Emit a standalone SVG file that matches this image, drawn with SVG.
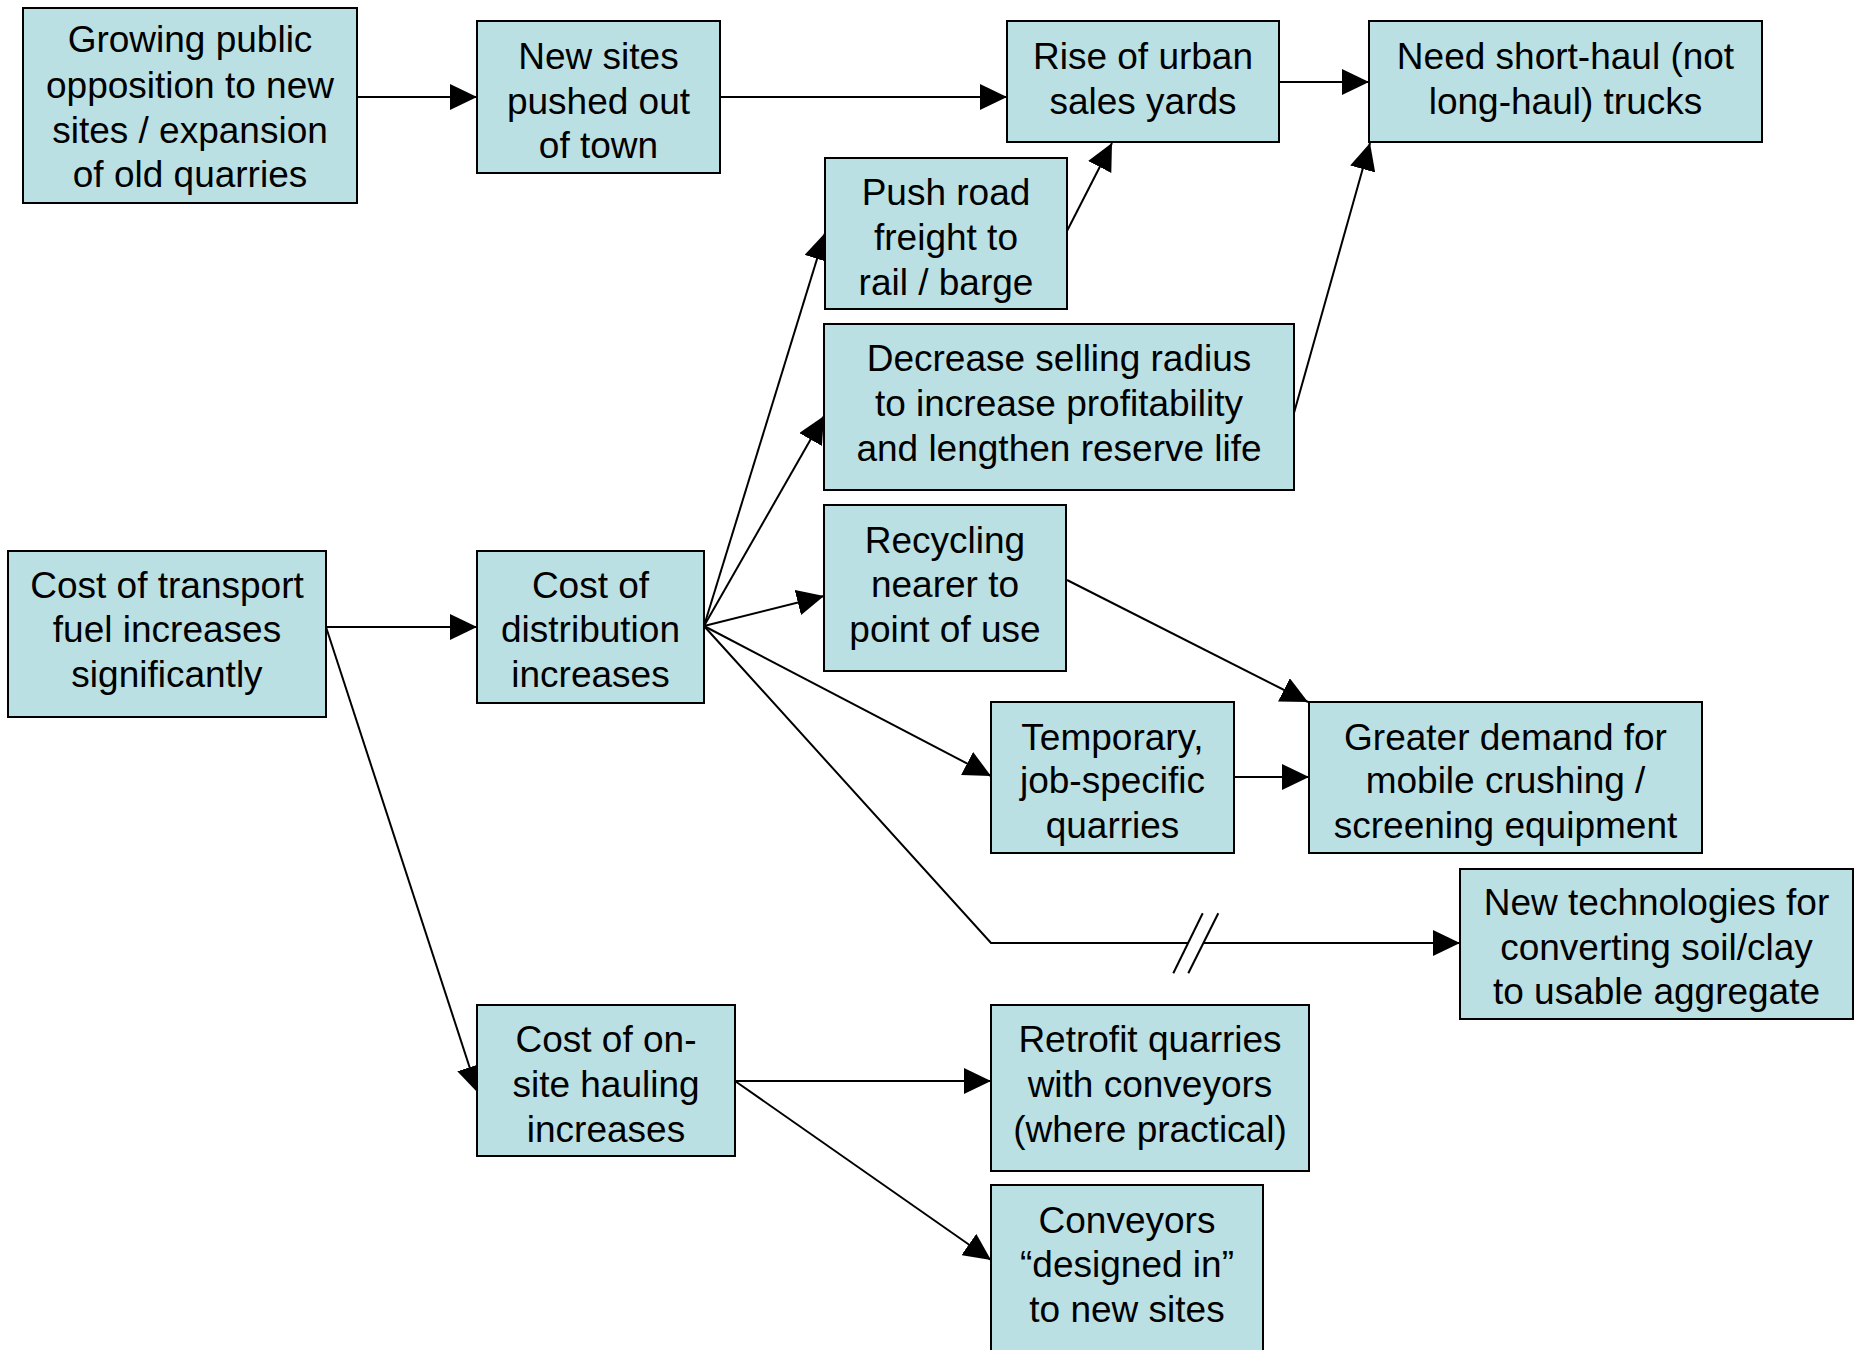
<svg xmlns="http://www.w3.org/2000/svg" width="1857" height="1350" viewBox="0 0 1857 1350">
  <style>
    .box rect { fill: #BBE0E3; stroke: #000; stroke-width: 2; }
    .box text { font-family: "Liberation Sans", Arial, sans-serif; font-size: 37px; fill: #000; text-anchor: middle; }
    .edge { fill: none; stroke: #000; stroke-width: 2; }
    .arrow { marker-end: url(#head); }
  </style>
  <defs>
    <marker id="head" markerUnits="userSpaceOnUse" markerWidth="28" markerHeight="26" refX="27" refY="13" orient="auto">
      <path d="M0,0 L27,13 L0,26 Z" fill="#000"/>
    </marker>
  </defs>
  <rect width="1857" height="1350" fill="#fff"/>

  <!-- connectors -->
  <g id="connectors">
    <line class="edge arrow" x1="357" y1="97" x2="477" y2="97"/>
    <line class="edge arrow" x1="720" y1="97" x2="1007" y2="97"/>
    <line class="edge arrow" x1="1279" y1="82" x2="1369" y2="82"/>
    <line class="edge arrow" x1="1067" y1="231" x2="1112" y2="143"/>
    <line class="edge arrow" x1="1294" y1="413" x2="1370" y2="143"/>
    <line class="edge arrow" x1="326" y1="627" x2="477" y2="627"/>
    <line class="edge arrow" x1="326" y1="627" x2="478" y2="1093"/>
    <line class="edge arrow" x1="704" y1="626" x2="825" y2="233"/>
    <line class="edge arrow" x1="704" y1="626" x2="824" y2="416"/>
    <line class="edge arrow" x1="704" y1="626" x2="824" y2="596"/>
    <line class="edge arrow" x1="704" y1="626" x2="991" y2="776"/>
    <polyline class="edge arrow" points="704,626 991,943 1460,943"/>
    <!-- break symbol on the long connector -->
    <polygon points="1202.7,913.3 1218.3,913.3 1188.3,973.3 1173.3,973.3" fill="#fff"/>
    <line class="edge" x1="1202.7" y1="913.3" x2="1173.3" y2="973.3"/>
    <line class="edge" x1="1218.3" y1="913.3" x2="1188.3" y2="973.3"/>
    <line class="edge arrow" x1="1067" y1="580" x2="1308" y2="702"/>
    <line class="edge arrow" x1="1234" y1="777" x2="1309" y2="777"/>
    <line class="edge arrow" x1="735" y1="1081" x2="991" y2="1081"/>
    <line class="edge arrow" x1="735" y1="1081" x2="991" y2="1260"/>
  </g>

  <g id="opposition" class="box">
    <rect x="23" y="8" width="334" height="195"/>
    <text x="190" y="52">Growing public</text>
    <text x="190" y="98">opposition to new</text>
    <text x="190" y="143">sites / expansion</text>
    <text x="190" y="187">of old quarries</text>
  </g>
  <g id="sites-out-of-town" class="box">
    <rect x="477" y="21" width="243" height="152"/>
    <text x="598.5" y="69">New sites</text>
    <text x="598.5" y="114">pushed out</text>
    <text x="598.5" y="158">of town</text>
  </g>
  <g id="urban-yards" class="box">
    <rect x="1007" y="21" width="272" height="121"/>
    <text x="1143" y="69">Rise of urban</text>
    <text x="1143" y="114">sales yards</text>
  </g>
  <g id="short-haul" class="box">
    <rect x="1369" y="21" width="393" height="121"/>
    <text x="1565.5" y="69">Need short-haul (not</text>
    <text x="1565.5" y="114">long-haul) trucks</text>
  </g>
  <g id="rail-barge" class="box">
    <rect x="825" y="158" width="242" height="151"/>
    <text x="946" y="205">Push road</text>
    <text x="946" y="250">freight to</text>
    <text x="946" y="295">rail / barge</text>
  </g>
  <g id="selling-radius" class="box">
    <rect x="824" y="324" width="470" height="166"/>
    <text x="1059" y="371">Decrease selling radius</text>
    <text x="1059" y="416">to increase profitability</text>
    <text x="1059" y="461">and lengthen reserve life</text>
  </g>
  <g id="recycling" class="box">
    <rect x="824" y="505" width="242" height="166"/>
    <text x="945" y="553">Recycling</text>
    <text x="945" y="597">nearer to</text>
    <text x="945" y="642">point of use</text>
  </g>
  <g id="fuel-cost" class="box">
    <rect x="8" y="551" width="318" height="166"/>
    <text x="167" y="598">Cost of transport</text>
    <text x="167" y="642">fuel increases</text>
    <text x="167" y="687">significantly</text>
  </g>
  <g id="distribution-cost" class="box">
    <rect x="477" y="551" width="227" height="152"/>
    <text x="590.5" y="598">Cost of</text>
    <text x="590.5" y="642">distribution</text>
    <text x="590.5" y="687">increases</text>
  </g>
  <g id="temporary-quarries" class="box">
    <rect x="991" y="702" width="243" height="151"/>
    <text x="1112.5" y="750">Temporary,</text>
    <text x="1112.5" y="793">job-specific</text>
    <text x="1112.5" y="838">quarries</text>
  </g>
  <g id="mobile-equipment" class="box">
    <rect x="1309" y="702" width="393" height="151"/>
    <text x="1505.5" y="750">Greater demand for</text>
    <text x="1505.5" y="793">mobile crushing /</text>
    <text x="1505.5" y="838">screening equipment</text>
  </g>
  <g id="new-technologies" class="box">
    <rect x="1460" y="869" width="393" height="150"/>
    <text x="1656.5" y="915">New technologies for</text>
    <text x="1656.5" y="960">converting soil/clay</text>
    <text x="1656.5" y="1004">to usable aggregate</text>
  </g>
  <g id="hauling-cost" class="box">
    <rect x="477" y="1005" width="258" height="151"/>
    <text x="606" y="1052">Cost of on-</text>
    <text x="606" y="1097">site hauling</text>
    <text x="606" y="1142">increases</text>
  </g>
  <g id="retrofit" class="box">
    <rect x="991" y="1005" width="318" height="166"/>
    <text x="1150" y="1052">Retrofit quarries</text>
    <text x="1150" y="1097">with conveyors</text>
    <text x="1150" y="1142">(where practical)</text>
  </g>
  <g id="designed-in" class="box">
    <rect x="991" y="1185" width="272" height="180"/>
    <text x="1127" y="1233">Conveyors</text>
    <text x="1127" y="1277">“designed in”</text>
    <text x="1127" y="1322">to new sites</text>
  </g>
</svg>
